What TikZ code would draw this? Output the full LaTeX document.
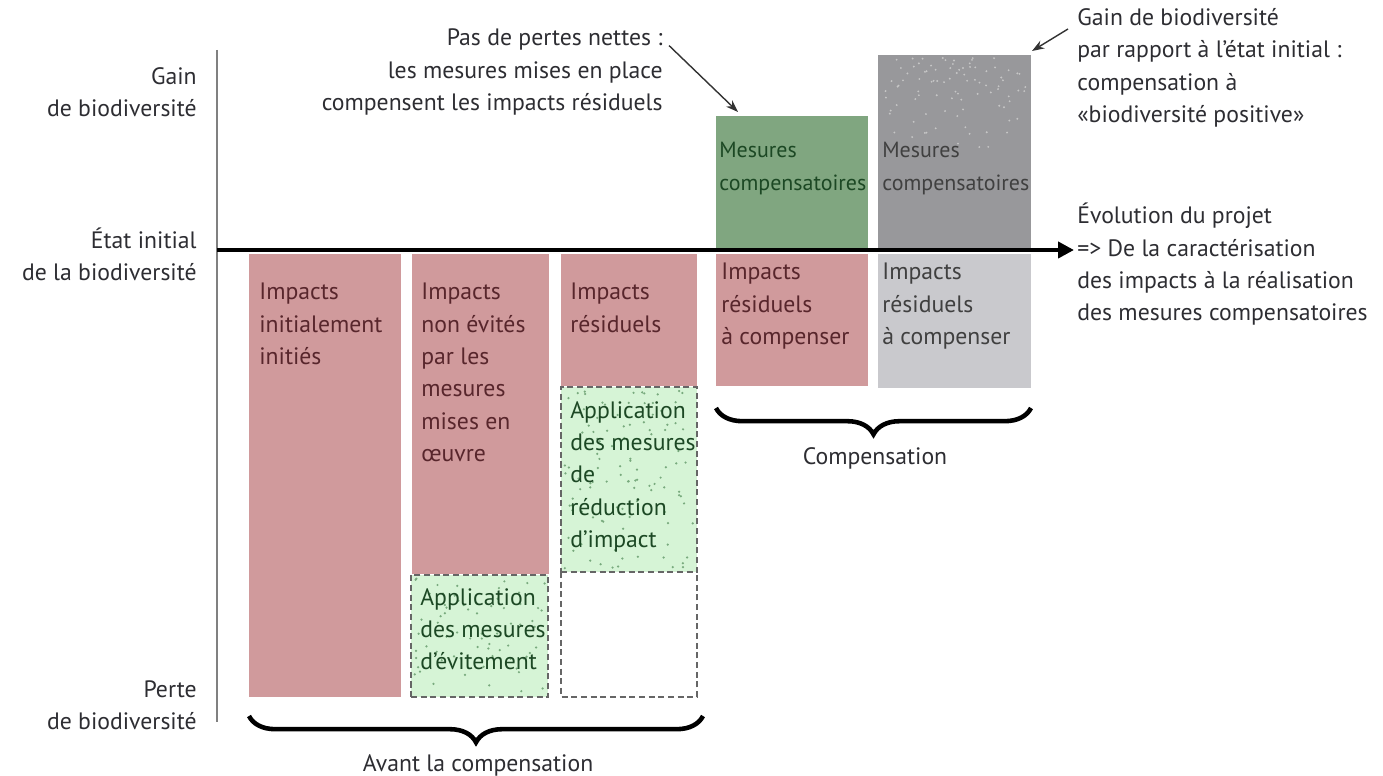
\documentclass[tikz,border=0pt]{standalone}
\usepackage{fontspec}
\setmainfont{PT Sans}
\usetikzlibrary{arrows.meta, positioning, fit, calc, decorations.pathreplacing}
\definecolor{impred}{RGB}{208,154,156}
\definecolor{imptext}{RGB}{88,38,44}
\definecolor{avoidgreen}{RGB}{214,244,214}
\definecolor{dotgreen}{RGB}{120,170,125}
\definecolor{mesgreen}{RGB}{128,166,128}
\definecolor{mestext}{RGB}{28,72,36}
\definecolor{gaingray}{RGB}{152,152,155}
\definecolor{resgray}{RGB}{201,201,205}
\definecolor{labelgray}{RGB}{45,45,50}

\begin{document}
\begin{tikzpicture}[x=0.02cm, y=-0.02cm,
  lbl/.style={font=\fontsize{13.5}{18.4}\selectfont, text=labelgray, inner sep=0pt},
  bar/.style={inner sep=0pt, outer sep=0pt},
  impbar/.style={bar, fill=impred},
  dashline/.style={draw=black!60, dash pattern=on 3.5pt off 2pt, line width=0.8pt},
  avoidbar/.style={bar, fill=avoidgreen, dashline},
  bartext/.style={lbl, anchor=north west, align=left, text=imptext},
  greentext/.style={bartext, text=mestext},
  graytext/.style={bartext, text=black!75},
  narrow/.style={font=\fontsize{12.5}{18.4}\selectfont},
  brace/.style={decorate, decoration={brace, mirror, amplitude=15pt}, line width=2.6pt},
  notearrow/.style={-{Stealth[length=7pt, width=5pt]}, line width=0.8pt, black!80}
]
  \useasboundingbox (0,0) rectangle (1383,776);

  % axis and labels
  \coordinate (axtop) at (217,50);
  \coordinate (axbot) at (217,722);
  \draw[gray, line width=1.2pt] (axtop) -- (axbot);
  \node[lbl, align=right, anchor=east] (gain) at (197,92) {Gain\\de biodiversité};
  \node[lbl, align=right, anchor=east] (etat) at (197,254) {État initial\\de la biodiversité};
  \node[lbl, align=right, anchor=east] (perte) at (197,705) {Perte\\de biodiversité};

  % before compensation
  \node[impbar, fit={(249,254) (401,697)}] (imp1) {};
  \node[impbar, fit={(412,254) (549,574)}] (imp2) {};
  \node[avoidbar, fit={(411,575) (548,697)}] (evit) {};
  \node[impbar, fit={(561,254) (697,386)}] (imp3) {};
  \node[avoidbar, fit={(561,387) (697,572)}] (reduc) {};
  \node[bar, fit={(561,572) (697,697)}] (vide) {};
  \draw[dashline] (vide.north west) -- (vide.south west) -- (vide.south east) -- (vide.north east);

  % compensation
  \node[bar, fill=mesgreen, fit={(716,116) (868,250)}] (mesure) {};
  \node[impbar, fit={(716,254) (868,386)}] (resimp) {};
  \node[bar, fill=gaingray, fit={(878,55) (1031,250)}] (mesgain) {};
  \node[bar, fill=resgray, fit={(878,254) (1031,388)}] (resgris) {};

  % dots
  \pgfmathsetseed{11}
  \foreach \i in {1,...,70}
    \fill[dotgreen] ({414+132*rnd},{578+116*rnd}) circle (0.7pt);
  \foreach \i in {1,...,110}
    \fill[dotgreen] ({564+130*rnd},{390+179*rnd}) circle (0.7pt);
  \foreach \i in {1,...,90}
    \fill[gray!45] ({882+145*rnd},{58+90*rnd^1.5}) circle (0.6pt);

  % bar texts
  \node[bartext] (t1) at (259,283) {Impacts\\initialement\\initiés};
  \node[bartext] (t2) at (421,283) {Impacts\\non évités\\par les\\mesures\\mises en\\œuvre};
  \node[greentext] (t3) at (420,588) {Application\\des mesures\\d’évitement};
  \node[bartext] (t4) at (570,283) {Impacts\\résiduels};
  \node[greentext] (t5) at (570,401) {Application\\des mesures\\de\\réduction\\d’impact};
  \node[greentext, narrow] (t6) at (719,142) {Mesures\\compensatoires};
  \node[bartext] (t7) at (721,263) {Impacts\\résiduels\\à compenser};
  \node[graytext, narrow] (t8) at (882,142) {Mesures\\compensatoires};
  \node[graytext] (t9) at (882,263) {Impacts\\résiduels\\à compenser};

  % main arrow
  \coordinate (axorig) at (217,250);
  \coordinate (axend) at (1074,250);
  \draw[line width=2.6pt, -{Triangle[length=9pt, width=9pt]}] (axorig) -- (axend);

  % notes
  \node[lbl, align=right, anchor=east] (pertes) at (663,72) {Pas de pertes nettes :\\les mesures mises en place\\compensent les impacts résiduels};
  \draw[notearrow] ($(pertes.north east)+(6,17)$) -- ($(mesure.north west)+(22,-4)$);
  \node[lbl, align=left, anchor=north west] (gainnote) at (1077,8) {Gain de biodiversité\\par rapport à l’état initial :\\compensation à\\«biodiversité positive»};
  \draw[notearrow] ($(gainnote.north west)+(-9,21)$) -- ($(mesgain.north east)+(1,-4)$);
  \node[lbl, align=left, anchor=north west] (evol) at (1077,203) {Évolution du projet\\=> De la caractérisation\\des impacts à la réalisation\\des mesures compensatoires};

  % braces
  \draw[brace] ($(imp1.south west)+(0,19)$) -- ($(vide.south east)+(6,19)$);
  \node[lbl] (avant) at (478,765) {Avant la compensation};
  \draw[brace] ($(resimp.south west)+(0,22)$) -- ($(resgris.south east)+(0,20)$);
  \node[lbl] (compens) at (875,458) {Compensation};
\end{tikzpicture}
\end{document}
